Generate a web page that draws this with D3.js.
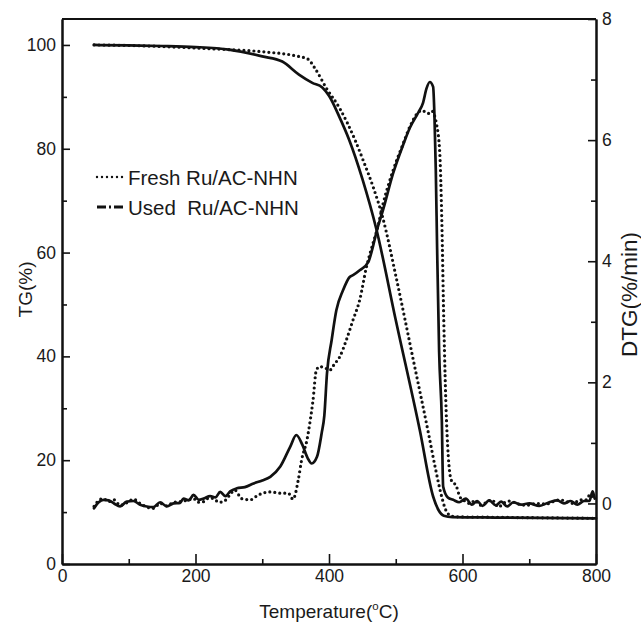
<!DOCTYPE html>
<html>
<head>
<meta charset="utf-8">
<script src="https://cdn.jsdelivr.net/npm/d3@7"></script>
<style>
  body { margin: 0; background: #fff; }
  text { font-family: "Liberation Sans", Arial, sans-serif; fill: #1a1a1a; }
</style>
</head>
<body>
<div id="chart"></div>
<script>
// temperature (°C) / value pairs
const tgFresh = [[48,100],[100,99.9],[150,99.7],[200,99.4],[250,99.1],[300,98.7],[350,97.9],[368,97.3],[379,95.5],[396,91.7],[416,87.8],[439,81.7],[452,77.5],[466,72.7],[481,66.5],[501,55],[526,39.5],[549,25.2],[559,18.7],[569,12.9],[574,10.7],[581,9.4],[590,9.1],[650,9.0],[800,8.8]];
const tgUsed = [[48,100],[100,99.9],[150,99.8],[200,99.6],[250,99.1],[300,97.8],[330,96.8],[355,94.3],[375,92.7],[390,91.8],[400,90.2],[415,86.3],[430,81.8],[450,74.2],[471,64.5],[500,47],[536,25.8],[556,13],[564,10.4],[572,9.3],[585,9.05],[650,8.95],[800,8.8]];
const dtgFresh = [[48,-0.05],[55,0.05],[62,0.08],[70,0.03],[78,0.06],[87,-0.03],[95,0.0],[107,0.07],[117,0.0],[127,-0.06],[137,-0.08],[147,0.0],[157,-0.04],[167,0.02],[177,0.03],[187,0.05],[197,0.08],[204,0.02],[212,0.03],[220,0.09],[227,0.08],[235,0.02],[242,0.03],[250,0.12],[259,0.22],[269,0.08],[282,0.06],[294,0.14],[312,0.19],[327,0.17],[339,0.17],[346,0.07],[354,0.39],[359,0.72],[367,1.05],[372,1.38],[376,1.7],[381,2.2],[386,2.26],[394,2.24],[401,2.2],[408,2.3],[416,2.42],[426,2.7],[436,3.03],[446,3.36],[456,3.9],[466,4.3],[472,4.52],[481,4.95],[496,5.5],[511,5.94],[521,6.22],[534,6.46],[539,6.49],[549,6.44],[554,6.48],[561,6.27],[566,5.78],[569,4.68],[572,3.0],[576,1.38],[583,0.39],[591,0.28],[596,0.11],[601,0.06],[611,0.0],[619,0.05],[626,-0.03],[636,0.02],[644,0.06],[654,-0.06],[661,0.0],[671,0.04],[681,0.0],[696,-0.03],[711,0.0],[726,-0.01],[736,0.03],[746,0.06],[756,0.03],[766,0.0],[776,0.06],[786,0.06],[791,0.15],[796,0.06]];
const dtgUsed = [[48,-0.08],[55,0.02],[62,0.06],[70,0.05],[78,0.0],[87,-0.05],[97,0.03],[107,0.04],[117,-0.02],[127,-0.05],[137,-0.06],[147,0.02],[157,-0.05],[167,0.0],[177,0.01],[182,0.08],[190,0.05],[197,0.14],[205,0.06],[212,0.08],[222,0.12],[230,0.1],[237,0.19],[245,0.12],[252,0.2],[262,0.25],[274,0.27],[287,0.33],[300,0.38],[312,0.44],[327,0.61],[342,0.94],[351,1.13],[360,0.97],[368,0.75],[374,0.66],[382,0.77],[389,1.16],[393,1.45],[397,2.15],[404,2.7],[411,3.19],[421,3.52],[431,3.74],[436,3.77],[446,3.85],[459,3.99],[466,4.25],[472,4.52],[481,4.85],[496,5.45],[511,5.92],[521,6.2],[534,6.46],[541,6.62],[546,6.85],[551,6.96],[556,6.88],[558,6.4],[560,5.5],[562,4.2],[565,2.5],[569,1.38],[571,0.28],[578,0.1],[586,0.06],[595,0.02],[605,0.08],[614,-0.02],[622,0.04],[630,-0.04],[640,0.05],[650,-0.03],[658,0.03],[667,-0.05],[676,0.02],[688,-0.02],[700,0.0],[715,-0.04],[730,0.02],[742,0.05],[752,0.0],[762,0.04],[772,-0.02],[782,0.04],[790,0.04],[795,0.2],[798,0.08]];

const xMajor = [0, 200, 400, 600, 800];
const xMinor = [100, 300, 500, 700];
const tgMajor = [0, 20, 40, 60, 80, 100];
const tgMinor = [10, 30, 50, 70, 90];
const dtgMajor = [0, 2, 4, 6, 8];
const dtgMinor = [1, 3, 5, 7];
const legendLabels = ["Fresh Ru/AC-NHN", "Used  Ru/AC-NHN"];

const W = 641, H = 638;
const margin = { top: 19, right: 45, bottom: 74, left: 62 };
const width = W - margin.left - margin.right;
const height = H - margin.top - margin.bottom;

const svg = d3.select("#chart").append("svg")
  .attr("width", W).attr("height", H)
  .append("g")
  .attr("transform", `translate(${margin.left},${margin.top})`);

const x = d3.scaleLinear().domain([0, 800]).range([0, width]);
const yTG = d3.scaleLinear().domain([0, 105]).range([height, 0]);
const yDTG = d3.scaleLinear().domain([-1, 8]).range([height, 0]);

// axes, ticks pointing inward
function drawAxis(axis, tf, vals, size, fmt) {
  const g = svg.append("g").attr("transform", tf)
    .call(axis.tickValues(vals).tickSizeInner(-size).tickSizeOuter(0).tickPadding(6).tickFormat(fmt));
  g.selectAll("line").attr("stroke", "#111").attr("stroke-width", 1.6);
  g.select(".domain").attr("stroke", "#111").attr("stroke-width", 2);
  g.selectAll("text").attr("font-size", 17.5).attr("font-family", "Liberation Sans, Arial, sans-serif").attr("fill", "#1a1a1a");
  return g;
}
drawAxis(d3.axisBottom(x), `translate(0,${height})`, xMajor, 10, d3.format("d"));
drawAxis(d3.axisBottom(x), `translate(0,${height})`, xMinor, 5, "");
drawAxis(d3.axisLeft(yTG), null, tgMajor, 8, d3.format("d"));
drawAxis(d3.axisLeft(yTG), null, tgMinor, 5, "");
drawAxis(d3.axisRight(yDTG), `translate(${width},0)`, dtgMajor, 8, d3.format("d"));
drawAxis(d3.axisRight(yDTG), `translate(${width},0)`, dtgMinor, 5, "");
svg.append("line").attr("x1", 0).attr("x2", width).attr("y1", 0).attr("y2", 0)
  .attr("stroke", "#111").attr("stroke-width", 2);

// curves
const lineTG = d3.line().x(d => x(d[0])).y(d => yTG(d[1])).curve(d3.curveMonotoneX);
const lineDTG = d3.line().x(d => x(d[0])).y(d => yDTG(d[1])).curve(d3.curveMonotoneX);

const dotted = { dash: "0,5", width: 3.2, cap: "round" };
const solid = { dash: null, width: 2.7, cap: "round" };

[[tgFresh, lineTG, dotted], [tgUsed, lineTG, solid], [dtgFresh, lineDTG, dotted], [dtgUsed, lineDTG, solid]]
  .forEach(([data, gen, st]) => {
    svg.append("path")
      .datum(data)
      .attr("d", gen)
      .attr("fill", "none")
      .attr("stroke", "#111")
      .attr("stroke-width", st.width)
      .attr("stroke-linecap", st.cap)
      .attr("stroke-linejoin", "round")
      .attr("stroke-dasharray", st.dash);
  });

// legend
const legend = svg.append("g").attr("transform", "translate(35,158)");
legend.append("line").attr("x1", 0).attr("x2", 26).attr("y1", 0).attr("y2", 0)
  .attr("stroke", "#111").attr("stroke-width", 2.4).attr("stroke-linecap", "round").attr("stroke-dasharray", "0,5");
legend.append("line").attr("x1", 0).attr("x2", 26).attr("y1", 30).attr("y2", 30)
  .attr("stroke", "#111").attr("stroke-width", 3).attr("stroke-dasharray", "9,3,2,3,9");
legend.selectAll("text.lab")
  .data(legendLabels)
  .enter().append("text")
  .attr("x", 31)
  .attr("y", (d, i) => i * 30 + 7.5)
  .attr("font-size", 20.5)
  .attr("xml:space", "preserve")
  .style("white-space", "pre")
  .text(d => d);

// axis titles
svg.append("text")
  .attr("transform", `translate(-30,${height / 2 - 2}) rotate(-90)`)
  .attr("text-anchor", "middle")
  .attr("font-size", 19)
  .text("TG(%)");

svg.append("text")
  .attr("transform", `translate(${width + 41},${height / 2 + 3}) rotate(-90)`)
  .attr("text-anchor", "middle")
  .attr("font-size", 22.5)
  .text("DTG(%/min)");

const xt = svg.append("text")
  .attr("x", width / 2)
  .attr("y", height + 54)
  .attr("text-anchor", "middle")
  .attr("font-size", 19);
xt.append("tspan").text("Temperature(");
xt.append("tspan").attr("font-size", 11.5).attr("dy", -8).text("o");
xt.append("tspan").attr("dy", 8).text("C)");
</script>
</body>
</html>
